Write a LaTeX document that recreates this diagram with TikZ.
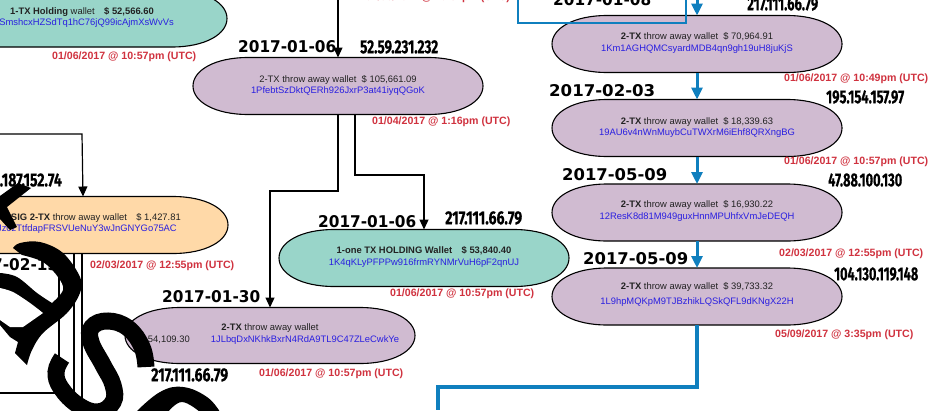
\documentclass[tikz,border=0pt]{standalone}
\usepackage{fontspec}
\usepackage{graphicx}
\setmainfont{Liberation Sans}
\newfontfamily\datefont{DejaVu Sans}
\newfontfamily\ipfont[BoldFeatures={FakeBold=0.6}]{Fira Sans}
\definecolor{mauve}{HTML}{D0BBD1}
\definecolor{teal1}{HTML}{99D5C9}
\definecolor{peach}{HTML}{FFD9A8}
\definecolor{addr}{HTML}{2A1FE0}
\definecolor{stamp}{HTML}{D0323F}
\definecolor{flow}{HTML}{0F7FBE}
\definecolor{ink}{HTML}{222222}
\usetikzlibrary{arrows.meta}
\tikzset{
 x=1pt,y=-1pt,
 wallet/.style={draw=black,line width=1.1pt},
 walletlabel/.style={font=\fontsize{9.4}{11.4}\selectfont,align=center,text=ink,inner sep=0pt},
 stamplabel/.style={font=\fontsize{10.6}{12}\selectfont\bfseries,text=stamp,inner sep=0pt},
 datelabel/.style={inner sep=0pt,text=black,anchor=west},
 iplabel/.style={inner sep=0pt,text=black,anchor=west},
 blk/.style={draw=black,line width=1.2pt},
 blkarrow/.style={blk,-{Triangle[length=10pt,width=9pt]}},
 blu/.style={draw=flow,line width=3pt},
 bluarrow/.style={blu,-{Triangle[length=12pt,width=11pt]}},
 thinblu/.style={draw=flow,line width=1.2pt},
 swirl/.style={fill=black,draw=none},
 swirlstroke/.style={draw=black,line width=17pt,line cap=butt},
}
\newcommand{\dt}[2][98]{\resizebox{#1pt}{12pt}{\datefont\bfseries #2}}
\newcommand{\ip}[2][77]{\resizebox{#1pt}{13pt}{\ipfont\bfseries #2}}
\newcommand{\addr}[1]{\textcolor{addr}{#1}}
\newcommand{\pill}[6]{%
 \path[wallet,fill=#6] (#1-#3,#2) .. controls (#1-#3,#2-#4*0.55) and (#1-#3*0.85,#2-#4) .. (#1-#3*0.62,#2-#4)
   -- (#1+#3*0.62,#2-#4) .. controls (#1+#3*0.85,#2-#4) and (#1+#3,#2-#4*0.55) .. (#1+#3,#2)
   .. controls (#1+#3,#2+#4*0.55) and (#1+#3*0.85,#2+#4) .. (#1+#3*0.62,#2+#4)
   -- (#1-#3*0.62,#2+#4) .. controls (#1-#3*0.85,#2+#4) and (#1-#3,#2+#4*0.55) .. (#1-#3,#2) -- cycle;
 \coordinate (#5) at (#1,#2);
 \coordinate (#5-n) at (#1,#2-#4);
 \coordinate (#5-s) at (#1,#2+#4);
}
\begin{document}
\begin{tikzpicture}
\useasboundingbox (0,0) rectangle (952,410);
\fill[white] (0,0) rectangle (952,410);
\clip (0,0) rectangle (952,410);

\coordinate (top1) at (338,0);
\coordinate (boxa) at (82,134);
\coordinate (boxb) at (0,134);
\coordinate (bend1) at (338,191);
\coordinate (bend2) at (270,191);
\coordinate (bend3) at (355,175);
\coordinate (bend4) at (424,175);
\coordinate (topb) at (697,0);
\coordinate (bluea) at (697,387);
\coordinate (blueb) at (438,387);
\coordinate (bluec) at (438,410);

% frames at left
\draw[draw=black,line width=1.6pt] (59,270) -- (59,393) -- (0,393);
\draw[draw=black,line width=2.2pt] (74,250) -- (74,410);
\draw[draw=black,line width=2.2pt] (82,250) -- (82,410);

% ovals
\pill{82}{18.5}{145}{28.5}{holding}{teal1}
\pill{338}{86}{145}{28.5}{main}{mauve}
\pill{83}{225}{145}{28.5}{multisig}{peach}
\pill{424}{258}{145}{28.5}{onetx}{teal1}
\pill{270}{335.5}{145}{28}{jl}{mauve}
\pill{697}{44}{145}{28.5}{km}{mauve}
\pill{697}{128}{145}{28.5}{au}{mauve}
\pill{697}{212.5}{145}{28.5}{res}{mauve}
\pill{697}{296.5}{145}{28.5}{hp}{mauve}

% black connectors
\draw[blkarrow] (top1) -- (main-n);
\draw[blkarrow] (boxb) -- (boxa) -- (multisig-n);
\draw[blkarrow] (main-s) -- (bend1) -- (bend2) -- (jl-n);
\draw[blkarrow] (bend3 |- main-s) -- (bend3) -- (bend4) -- (onetx-n);

% blue connectors
\draw[bluarrow] (topb) -- (km-n);
\draw[bluarrow] (km-s) -- (au-n);
\draw[bluarrow] (au-s) -- (res-n);
\draw[bluarrow] (res-s) -- (hp-n);
\draw[blu,line width=4pt] (hp-s) -- (bluea) -- (blueb) -- (bluec);
\draw[thinblu] (518,0) -- (518,23) -- (686,23) -- (686,0);

% text in ovals
\node[walletlabel] (t1a) at (82,12) {\textbf{1-TX Holding} wallet\quad\textbf{\$ 52,566.60}};
\node[walletlabel,anchor=east] (t1b) at (174,23.5) {\addr{SmshcxHZSdTq1hC76jQ99icAjmXsWvVs}};
\node[walletlabel] (t2) at (338,85.5) {2-TX throw away wallet\ \ \$ 105,661.09\\\addr{1PfebtSzDktQERh926JxrP3at41iyqQGoK}};
\node[walletlabel,anchor=east] (t3) at (181,218) {\textbf{SIG 2-TX} throw away wallet\quad \$ 1,427.81};
\node[walletlabel,anchor=east] (t3b) at (177,229.5) {\addr{Jz0zTtfdapFRSVUeNuY3wJnGNYGo75AC}};
\node[walletlabel] (t4) at (424,257) {\textbf{1-one TX HOLDING Wallet\quad \$ 53,840.40}\\\addr{1K4qKLyPFPPw916frmRYNMrVuH6pF2qnUJ}};
\node[walletlabel] (t5a) at (270,328.5) {\textbf{2-TX} throw away wallet};
\node[walletlabel] (t5b) at (305,340) {\addr{1JLbqDxNKhkBxrN4RdA9TL9C47ZLeCwkYe}};
\node[walletlabel,anchor=east] (t5c) at (190,340) {\$ 54,109.30};
\node[walletlabel] (t6) at (697,43) {\textbf{2-TX} throw away wallet\ \ \$ 70,964.91\\\addr{1Km1AGHQMCsyardMDB4qn9gh19uH8juKjS}};
\node[walletlabel] (t7) at (697,127.5) {\textbf{2-TX} throw away wallet\ \ \$ 18,339.63\\\addr{19AU6v4nWnMuybCuTWXrM6iEhf8QRXngBG}};
\node[walletlabel] (t8) at (697,211) {\textbf{2-TX} throw away wallet\ \ \$ 16,930.22\\\addr{12ResK8d81M949guxHnnMPUhfxVmJeDEQH}};
\node[walletlabel] (t9a) at (697,286.7) {\textbf{2-TX} throw away wallet\ \ \$ 39,733.32};
\node[walletlabel] (t9b) at (697,302.3) {\addr{1L9hpMQKpM9TJBzhikLQSkQFL9dKNgX22H}};

% timestamps
\node[stamplabel,anchor=west] (s1) at (52,57) {01/06/2017 @ 10:57pm (UTC)};
\node[stamplabel,anchor=west] (s2) at (372,122) {01/04/2017 @ 1:16pm (UTC)};
\node[stamplabel,anchor=west] (s3) at (90,265.5) {02/03/2017 @ 12:55pm (UTC)};
\node[stamplabel,anchor=west] (s4) at (390,294) {01/06/2017 @ 10:57pm (UTC)};
\node[stamplabel,anchor=west] (s5) at (259,374) {01/06/2017 @ 10:57pm (UTC)};
\node[stamplabel,anchor=west] (s6) at (784,79) {01/06/2017 @ 10:49pm (UTC)};
\node[stamplabel,anchor=west] (s7) at (784,162) {01/06/2017 @ 10:57pm (UTC)};
\node[stamplabel,anchor=west] (s8) at (779,254) {02/03/2017 @ 12:55pm (UTC)};
\node[stamplabel,anchor=west] (s9) at (775,335) {05/09/2017 @ 3:35pm (UTC)};
\node[stamplabel,anchor=east] (s10) at (510,-2) {01/06/2017 @ 10:57pm (UTC)};

% dates
\node[datelabel] (d1) at (238,47) {\dt{2017-01-06}};
\node[datelabel] (d2) at (318,222) {\dt{2017-01-06}};
\node[datelabel] (d3) at (162,297) {\dt{2017-01-30}};
\node[datelabel] (d4) at (553,0) {\dt{2017-01-08}};
\node[datelabel] (d5) at (549,91) {\dt[106]{2017-02-03}};
\node[datelabel] (d6) at (562,175) {\dt[105]{2017-05-09}};
\node[datelabel] (d7) at (583,259) {\dt[105]{2017-05-09}};
\node[datelabel] (d8) at (-40,265) {\dt{2017-02-13}};

% IPs
\node[iplabel] (i1) at (360,47) {\ip[78]{52.59.231.232}};
\node[iplabel] (i2) at (445,218) {\ip{217.111.66.79}};
\node[iplabel] (i3) at (151,375) {\ip{217.111.66.79}};
\node[iplabel] (i4) at (747,4) {\ip[71]{217.111.66.79}};
\node[iplabel] (i5) at (826,97) {\ip[78]{195.154.157.97}};
\node[iplabel] (i6) at (828,180) {\ip[74]{47.88.100.130}};
\node[iplabel] (i7) at (834,274) {\ip[84]{104.130.119.148}};
\node[iplabel,anchor=east] (i8) at (62,180) {\ip[62]{.187.152.74}};

% big black swirl shapes drawn over everything
\fill[swirl] (0,196) -- (18,183) -- (31,188) -- (7,207) -- (17,227) -- (10,230) -- (0,219) -- cycle;
\fill[swirl] plot[smooth,tension=.6] coordinates {(13,248) (20,243) (40,242) (63,253) (80,277) (80,293) (67,313) (43,333) (32,350) (27,365)}
  -- (15,353) -- (18,342) -- (10,337) -- (0,325) -- (0,273)
  -- plot[smooth,tension=.6] coordinates {(0,273) (17,277) (37,293) (52,303)}
  -- plot[smooth,tension=.6] coordinates {(52,303) (63,290) (58,277) (43,262) (22,255)} -- cycle;
\fill[white] plot[smooth,tension=.5] coordinates {(0,288) (13,292) (30,303) (43,313)} -- (23,327) -- (10,327) -- (0,320) -- cycle;
\draw[swirlstroke] plot[smooth,tension=.7] coordinates {(146,367) (142,347) (128,328) (108,321) (92,327) (91,342) (103,365) (113,385) (113,402) (98,412) (78,405) (61,388) (56,372) (62,358)};
\fill[swirl] plot[smooth,tension=.7] coordinates {(136,412) (160,392) (183,387) (207,397) (220,412)} -- plot[smooth,tension=.7] coordinates {(200,412) (182,402) (168,412)} -- cycle;
\end{tikzpicture}
\end{document}
